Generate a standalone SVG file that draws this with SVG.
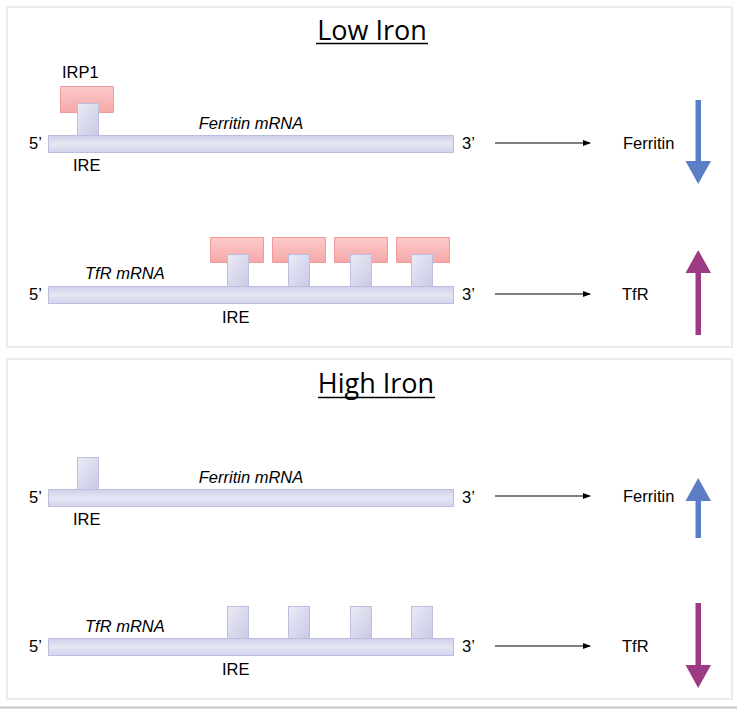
<svg xmlns="http://www.w3.org/2000/svg" width="737" height="709" viewBox="0 0 737 709">
<defs>
<linearGradient id="gBar" x1="0" y1="0" x2="0" y2="1">
<stop offset="0" stop-color="#cfcfe9"/>
<stop offset="0.5" stop-color="#e6e6f4"/>
<stop offset="1" stop-color="#d3d3ec"/>
</linearGradient>
<linearGradient id="gStem" x1="0" y1="0" x2="1" y2="1">
<stop offset="0" stop-color="#ebebf7"/>
<stop offset="1" stop-color="#c9c9e5"/>
</linearGradient>
<linearGradient id="gRed" x1="0" y1="0" x2="0" y2="1">
<stop offset="0" stop-color="#fbcaca"/>
<stop offset="1" stop-color="#f6a8a8"/>
</linearGradient>
<marker id="ah" markerWidth="8" markerHeight="6" refX="7" refY="3" orient="auto" markerUnits="userSpaceOnUse">
<path d="M0,0 L8,3 L0,6 Z" fill="#000"/>
</marker>
</defs>
<style>
.panel{fill:#fff;stroke:#ececec;stroke-width:2}
.bar{fill:url(#gBar);stroke:#bdbde0;stroke-width:1}
.stem{fill:url(#gStem);stroke:#bdbde0;stroke-width:1}
.irp{fill:url(#gRed);stroke:#f29a9a;stroke-width:1}
.t{font-family:"Liberation Sans",Arial,sans-serif;font-size:16.5px;fill:#000}
.it{font-style:italic}
.title{font-family:"Open Sans","Liberation Sans",sans-serif;font-size:27px;fill:#000;text-anchor:middle}
.conn{stroke:#000;stroke-width:1.2;fill:none;marker-end:url(#ah)}
.blue{fill:#5b7ec6}
.purple{fill:#9c3a83}
</style>
<rect x="0" y="0" width="737" height="709" fill="#fff"/>
<rect class="panel" x="7" y="7" width="725" height="340"/>
<rect class="panel" x="7" y="359" width="725" height="340"/>
<line x1="0" y1="707.5" x2="737" y2="707.5" stroke="#c8c8c8" stroke-width="2"/>

<g id="title-low"><text class="title" x="372" y="40">Low Iron</text><line x1="316" y1="43.5" x2="428" y2="43.5" stroke="#000" stroke-width="1.5"/></g>
<g id="title-high"><text class="title" x="376" y="393">High Iron</text><line x1="318" y1="397.5" x2="435" y2="397.5" stroke="#000" stroke-width="1.5"/></g>

<!-- Low iron ferritin -->
<g id="low-ferritin-mrna">
<path class="irp" d="M60.5,86.5 H113.5 V112.5 H98.5 V103.5 H77.5 V112.5 H60.5 Z"/>
<rect class="stem" x="77.5" y="103.5" width="21" height="32"/>
<rect class="bar" x="48.5" y="135.5" width="405" height="17"/>
<text class="t" x="62" y="78">IRP1</text>
<text class="t" x="29" y="149">5’</text>
<text class="t" x="73" y="171">IRE</text>
<text class="t it" x="251" y="129" text-anchor="middle">Ferritin mRNA</text>
<text class="t" x="462" y="149">3’</text>
</g>
<g id="low-ferritin-out">
<text class="t" x="623" y="149">Ferritin</text>
<path class="blue" d="M695.5,100 H701 V161 H711 L698.2,184 L685.5,161 H695.5 Z"/>
</g>

<!-- Low iron TfR -->
<g id="low-tfr-mrna">
<path class="irp" d="M210.5,237.5 H263.5 V262.5 H248.5 V254.5 H227.5 V262.5 H210.5 Z"/>
<path class="irp" d="M272.5,237.5 H325.5 V262.5 H309.5 V254.5 H288.5 V262.5 H272.5 Z"/>
<path class="irp" d="M334.5,237.5 H387.5 V262.5 H371.5 V254.5 H350.5 V262.5 H334.5 Z"/>
<path class="irp" d="M396.5,237.5 H449.5 V262.5 H432.5 V254.5 H411.5 V262.5 H396.5 Z"/>
<rect class="stem" x="227.5" y="254.5" width="21" height="32"/>
<rect class="stem" x="288.5" y="254.5" width="21" height="32"/>
<rect class="stem" x="350.5" y="254.5" width="21" height="32"/>
<rect class="stem" x="411.5" y="254.5" width="21" height="32"/>
<rect class="bar" x="48.5" y="286.5" width="405" height="17"/>
<text class="t it" x="85" y="279">TfR mRNA</text>
<text class="t" x="29" y="300">5’</text>
<text class="t" x="222" y="323">IRE</text>
<text class="t" x="462" y="300">3’</text>
</g>
<g id="low-tfr-out">
<text class="t" x="622" y="300">TfR</text>
<path class="purple" d="M695.5,335 H701 V273 H711 L698.2,250 L685.5,273 H695.5 Z"/>
</g>

<!-- High iron ferritin -->
<g id="high-ferritin-mrna">
<rect class="stem" x="77.5" y="457.5" width="21" height="32"/>
<rect class="bar" x="48.5" y="489.5" width="405" height="17"/>
<text class="t" x="29" y="503">5’</text>
<text class="t" x="73" y="525">IRE</text>
<text class="t it" x="251" y="483" text-anchor="middle">Ferritin mRNA</text>
<text class="t" x="462" y="503">3’</text>
</g>
<g id="high-ferritin-out">
<text class="t" x="623" y="502">Ferritin</text>
<path class="blue" d="M695.5,538 H701 V501 H711 L698.2,478 L685.5,501 H695.5 Z"/>
</g>

<!-- High iron TfR -->
<g id="high-tfr-mrna">
<rect class="stem" x="227.5" y="606.5" width="21" height="32"/>
<rect class="stem" x="288.5" y="606.5" width="21" height="32"/>
<rect class="stem" x="350.5" y="606.5" width="21" height="32"/>
<rect class="stem" x="411.5" y="606.5" width="21" height="32"/>
<rect class="bar" x="48.5" y="638.5" width="405" height="17"/>
<text class="t it" x="85" y="632">TfR mRNA</text>
<text class="t" x="29" y="652">5’</text>
<text class="t" x="222" y="675">IRE</text>
<text class="t" x="462" y="652">3’</text>
</g>
<g id="high-tfr-out">
<text class="t" x="622" y="652">TfR</text>
<path class="purple" d="M695.5,603 H701 V665 H711 L698.2,688 L685.5,665 H695.5 Z"/>
</g>

<g id="connectors">
<line class="conn" x1="495" y1="143" x2="590" y2="143"/>
<line class="conn" x1="495" y1="294" x2="590" y2="294"/>
<line class="conn" x1="495" y1="496" x2="590" y2="496"/>
<line class="conn" x1="495" y1="646" x2="590" y2="646"/>
</g>
</svg>
